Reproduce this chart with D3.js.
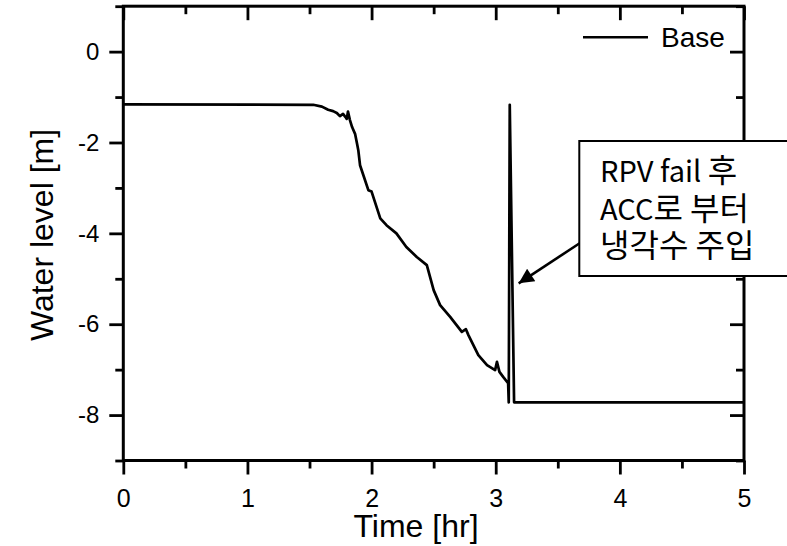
<!DOCTYPE html>
<html>
<head>
<meta charset="utf-8">
<script src="https://cdn.jsdelivr.net/npm/d3@7"></script>
<style>
body{margin:0;background:#fff;}
svg{display:block;}
</style>
</head>
<body>
<svg id="chart" width="787" height="546"></svg>
<script>
// Water level vs time (Base case)
var timeHr=[0,1.53,1.60,1.65,1.69,1.72,1.745,1.77,1.79,1.80,1.81,1.825,1.843,1.867,1.883,1.893,1.907,1.934,1.974,2.00,2.07,2.12,2.20,2.28,2.364,2.445,2.50,2.552,2.633,2.727,2.76,2.78,2.86,2.93,2.995,3.01,3.03,3.06,3.10,3.105,3.113,3.148,5.0];
var levelM=[-1.16,-1.17,-1.21,-1.28,-1.31,-1.35,-1.42,-1.37,-1.44,-1.48,-1.32,-1.50,-1.66,-1.81,-2.03,-2.17,-2.50,-2.72,-3.05,-3.08,-3.67,-3.82,-4.00,-4.30,-4.52,-4.70,-5.25,-5.58,-5.84,-6.17,-6.11,-6.24,-6.68,-6.90,-7.01,-6.83,-7.05,-7.16,-7.30,-7.72,-1.17,-7.72,-7.72];

var xMajor=[0,1,2,3,4,5];
var xMinor=[0.5,1.5,2.5,3.5,4.5];
var yMajor=[-8,-6,-4,-2,0];
var yMinor=[-9,-7,-5,-3,-1,1];
var seriesName="Base";
// each note line split into latin / hangul runs
var noteLines=[
    [["RPV fail ","lat"],["후","kor"]],
    [["ACC","lat"],["로 부터","kor"]],
    [["냉각수 주입","kor"]]
];

var svg=d3.select("#chart");
var plotL=123.3, plotR=744, plotT=6.2, plotB=460.5;

var x=d3.scaleLinear().domain([0,5]).range([plotL,plotR]);
var y=d3.scaleLinear().domain([-9,1]).range([plotB,plotT]);

var axisFont="'Liberation Sans', Arial, sans-serif";
var plainNum=function(d){return String(d);};

function styleAxis(g){
    g.select(".domain").remove();
    g.selectAll(".tick line").attr("stroke","#000").attr("stroke-width",2.8);
    g.selectAll("text").attr("fill","#000").style("font-family",axisFont);
}

// bottom axis
svg.append("g").attr("transform","translate(0,"+plotB+")")
    .call(d3.axisBottom(x).tickValues(xMajor).tickSize(14).tickPadding(15).tickFormat(plainNum))
    .call(styleAxis)
    .selectAll("text").style("font-size","25px");
svg.append("g").attr("transform","translate(0,"+plotB+")")
    .call(d3.axisBottom(x).tickValues(xMinor).tickSize(8).tickFormat(""))
    .call(styleAxis);
// top axis (ticks inward)
svg.append("g").attr("transform","translate(0,"+plotT+")")
    .call(d3.axisTop(x).tickValues(xMajor).tickSize(-14).tickFormat(""))
    .call(styleAxis);
svg.append("g").attr("transform","translate(0,"+plotT+")")
    .call(d3.axisTop(x).tickValues(xMinor).tickSize(-8).tickFormat(""))
    .call(styleAxis);
// left axis
svg.append("g").attr("transform","translate("+plotL+",0)")
    .call(d3.axisLeft(y).tickValues(yMajor).tickSize(14).tickPadding(10).tickFormat(plainNum))
    .call(styleAxis)
    .selectAll("text").style("font-size","24px");
svg.append("g").attr("transform","translate("+plotL+",0)")
    .call(d3.axisLeft(y).tickValues(yMinor).tickSize(8).tickFormat(""))
    .call(styleAxis);
// right axis (ticks inward)
svg.append("g").attr("transform","translate("+plotR+",0)")
    .call(d3.axisRight(y).tickValues(yMajor).tickSize(-14).tickFormat(""))
    .call(styleAxis);
svg.append("g").attr("transform","translate("+plotR+",0)")
    .call(d3.axisRight(y).tickValues(yMinor).tickSize(-8).tickFormat(""))
    .call(styleAxis);

// frame
svg.append("rect")
    .attr("x",plotL).attr("y",plotT)
    .attr("width",plotR-plotL).attr("height",plotB-plotT)
    .attr("fill","none").attr("stroke","#000").attr("stroke-width",3);

// data line
var pts=timeHr.map(function(t,i){return [t,levelM[i]];});
var line=d3.line().x(function(d){return x(d[0]);}).y(function(d){return y(d[1]);});
svg.append("path").datum(pts)
    .attr("d",line)
    .attr("fill","none").attr("stroke","#000")
    .attr("stroke-width",2.7).attr("stroke-linejoin","round");

// axis titles
svg.append("text")
    .attr("x",416).attr("y",537)
    .attr("text-anchor","middle")
    .style("font-family",axisFont).style("font-size","32px")
    .text("Time [hr]");
svg.append("text")
    .attr("transform","translate(53,235) rotate(-90)")
    .attr("text-anchor","middle")
    .style("font-family",axisFont).style("font-size","32px")
    .text("Water level [m]");

// legend
svg.append("line")
    .attr("x1",583).attr("x2",648).attr("y1",37.3).attr("y2",37.3)
    .attr("stroke","#000").attr("stroke-width",2.5);
svg.append("text")
    .attr("x",661).attr("y",47)
    .style("font-family",axisFont).style("font-size","28px")
    .text(seriesName);

// annotation arrow
svg.append("defs").append("marker")
    .attr("id","head").attr("viewBox","0 0 10 10")
    .attr("refX",10).attr("refY",5)
    .attr("markerWidth",19).attr("markerHeight",15)
    .attr("markerUnits","userSpaceOnUse")
    .attr("orient","auto")
    .append("path").attr("d","M0,0L10,5L0,10Z").attr("fill","#000");
svg.append("line")
    .attr("x1",580).attr("y1",243)
    .attr("x2",x(3.185)).attr("y2",y(-5.1))
    .attr("stroke","#000").attr("stroke-width",2.6)
    .attr("marker-end","url(#head)");

// annotation box
svg.append("rect")
    .attr("x",579.3).attr("y",141)
    .attr("width",240).attr("height",135)
    .attr("fill","#fff").attr("stroke","#000").attr("stroke-width",2);
var notes=svg.selectAll(".note").data(noteLines).enter().append("text")
    .attr("class","note")
    .attr("x",600)
    .attr("y",function(d,i){return 182+i*37.5;})
    .style("font-family","'Noto Sans CJK KR', sans-serif");
notes.selectAll("tspan").data(function(d){return d;}).enter().append("tspan")
    .style("font-size",function(d){return d[1]=="kor"?"32px":"29px";})
    .text(function(d){return d[0];});
</script>
</body>
</html>
